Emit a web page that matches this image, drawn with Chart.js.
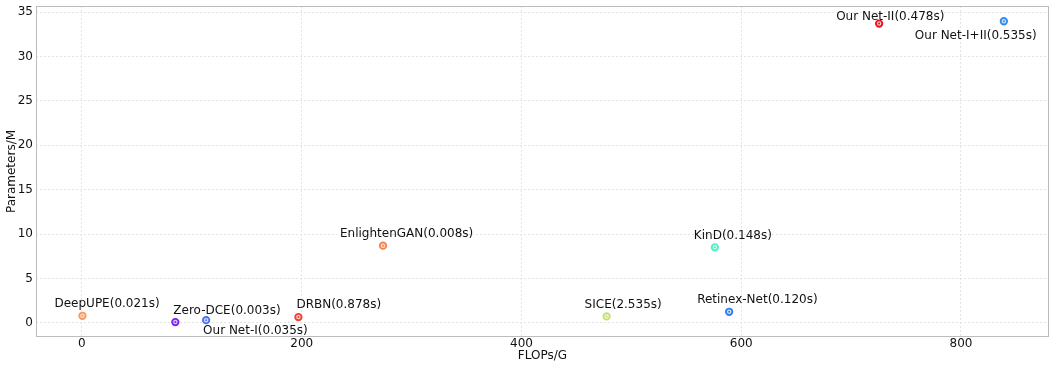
<!DOCTYPE html>
<html>
<head>
<meta charset="utf-8">
<script src="https://cdn.jsdelivr.net/npm/chart.js@4/dist/chart.umd.min.js"></script>
<style>
  html, body { margin: 0; padding: 0; background: #ffffff; }
  canvas { display: block; }
</style>
</head>
<body>
<canvas id="chart" width="1054" height="366"></canvas>
<script>
// Low-light enhancement methods: computational cost vs. model size (runtime in label)
const methods = ['DeepUPE(0.021s)', 'Zero-DCE(0.003s)', 'Our Net-I(0.035s)', 'DRBN(0.878s)',
                 'EnlightenGAN(0.008s)', 'SICE(2.535s)', 'KinD(0.148s)', 'Retinex-Net(0.120s)',
                 'Our Net-II(0.478s)', 'Our Net-I+II(0.535s)'];
const flops  = [0.5, 85, 113, 197, 274, 477.5, 576, 589, 725.5, 839];
const params = [0.79, 0.08, 0.3, 0.64, 8.69, 0.72, 8.5, 1.24, 33.72, 33.98];
const xTicks = [0, 200, 400, 600, 800];
const yTicks = [0, 5, 10, 15, 20, 25, 30, 35];

// Marker colours, one per method
const colors = ['#f59a62', '#8020f5', '#4f72f2', '#f2402e', '#f7834d',
                '#c3e070', '#4ff0c2', '#2f7ff0', '#ee1020', '#2f8df0'];

// Label placement relative to each marker (pixels, left edge / baseline)
const labelOffsets = [[-28, -8.5], [-2, -8], [-3, 14], [-2, -9], [-43, -8.7],
                      [-22, -8.4], [-21, -8.7], [-32, -8.3], [-43, -4], [-89, 17.3]];

const FONT = '"DejaVu Sans", "Liberation Sans", sans-serif';
const TEXT = '#111111';

const points = flops.map((x, i) => ({ x: x, y: params[i] }));

// Light-grey box around the whole plotting area
const frame = {
  id: 'frame',
  afterDraw(chart) {
    const { ctx, chartArea: a } = chart;
    ctx.save();
    ctx.strokeStyle = '#bcbcbc';
    ctx.lineWidth = 1;
    ctx.strokeRect(Math.round(a.left) + 0.5, Math.round(a.top) + 0.5,
                   Math.round(a.right - a.left) - 1, Math.round(a.bottom - a.top) - 1);
    ctx.restore();
  }
};

// Method names next to their markers
const pointLabels = {
  id: 'pointLabels',
  afterDatasetsDraw(chart) {
    const { ctx } = chart;
    const meta = chart.getDatasetMeta(0);
    ctx.save();
    ctx.font = '12px ' + FONT;
    ctx.fillStyle = TEXT;
    ctx.textAlign = 'left';
    ctx.textBaseline = 'alphabetic';
    meta.data.forEach((el, i) => {
      const [dx, dy] = labelOffsets[i];
      ctx.fillText(methods[i], el.x + dx, el.y + dy);
    });
    ctx.restore();
  }
};

new Chart(document.getElementById('chart'), {
  type: 'scatter',
  data: {
    datasets: [
      {
        data: points,
        pointRadius: 3.2,
        pointHoverRadius: 3.2,
        borderWidth: 1.9,
        pointBorderColor: colors,
        pointBackgroundColor: colors.map(c => c + '40')
      },
      {
        data: points,
        pointRadius: 1,
        pointHoverRadius: 1,
        borderWidth: 0,
        pointBackgroundColor: colors
      }
    ]
  },
  options: {
    responsive: false,
    devicePixelRatio: 1,
    animation: false,
    events: [],
    layout: { padding: { top: 6, right: 2, left: 0, bottom: 0 } },
    plugins: {
      legend: { display: false },
      tooltip: { enabled: false }
    },
    scales: {
      x: {
        type: 'linear',
        min: -41.8,
        max: 880,
        afterBuildTicks: axis => { axis.ticks = xTicks.map(v => ({ value: v })); },
        afterFit: axis => {
          axis.height = 29;
          axis.paddingLeft = 0; axis.paddingRight = 0;
        },
        grid: { color: '#e4e4e4', lineWidth: 1, drawTicks: false },
        border: { display: false, dash: [2, 2] },
        ticks: { padding: 0, color: TEXT, font: { family: FONT, size: 12 }, maxRotation: 0 },
        title: {
          display: true, text: 'FLOPs/G', color: TEXT,
          font: { family: FONT, size: 12 }, padding: { top: 0, bottom: 3 }
        }
      },
      y: {
        type: 'linear',
        min: -1.6,
        max: 35.7,
        afterBuildTicks: axis => { axis.ticks = yTicks.map(v => ({ value: v })); },
        afterFit: axis => {
          axis.width = 36;
          axis.paddingTop = 0; axis.paddingBottom = 0;
        },
        grid: { color: '#e4e4e4', lineWidth: 1, drawTicks: false },
        border: { display: false, dash: [2, 2] },
        ticks: { padding: 3, color: TEXT, font: { family: FONT, size: 12 } },
        title: {
          display: true, text: 'Parameters/M', color: TEXT,
          font: { family: FONT, size: 12 }, padding: { top: 5, bottom: 0 }
        }
      }
    }
  },
  plugins: [frame, pointLabels]
});
</script>
</body>
</html>
